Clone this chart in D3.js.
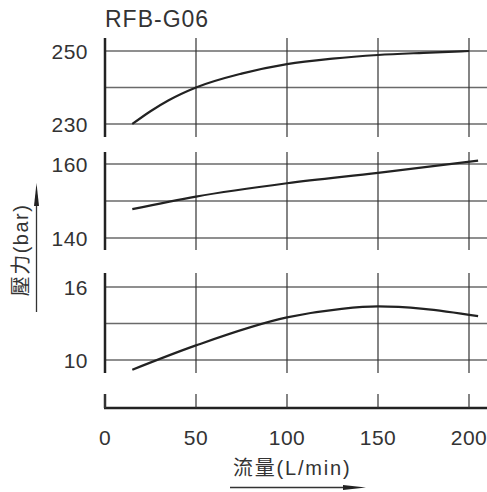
<!DOCTYPE html>
<html>
<head>
<meta charset="utf-8">
<script src="https://cdn.jsdelivr.net/npm/d3@7"></script>
<style>
  body { margin: 0; background: #fff; }
  text { font-family: "Liberation Sans", Arial, "Noto Sans CJK TC", sans-serif; fill: #333; }
</style>
</head>
<body>
<div id="chart"></div>
<script>
// flow (L/min) ticks
let xTicks = [0, 50, 100, 150, 200]

// top panel: 230-250 bar
let flowTop = [15, 25, 35, 50, 75, 100, 125, 150, 175, 200]
let pressTop = [230, 233.5, 236.5, 240, 243.8, 246.4, 247.9, 248.9, 249.5, 250]
let ticksTop = [230, 240, 250]

// middle panel: 140-160 bar
let flowMid = [15, 50, 100, 150, 205]
let pressMid = [147.8, 151.2, 154.8, 157.6, 160.9]
let ticksMid = [140, 150, 160]

// bottom panel: 10-16 bar
let flowBot = [15, 50, 100, 130, 150, 175, 205]
let pressBot = [9.2, 11.2, 13.5, 14.2, 14.4, 14.2, 13.6]
let ticksBot = [10, 13, 16]

let width = 487,
    height = 492

let svg = d3.select("#chart")
    .append("svg")
    .attr("width", width)
    .attr("height", height)

let xScale = d3.scaleLinear()
    .domain([0, 200])
    .range([105, 469])

let panels = [
    { flow: flowTop, press: pressTop, ticks: ticksTop, top: 38, bottom: 137, y0: 124, y1: 51 },
    { flow: flowMid, press: pressMid, ticks: ticksMid, top: 152, bottom: 250, y0: 238, y1: 164 },
    { flow: flowBot, press: pressBot, ticks: ticksBot, top: 273, bottom: 373, y0: 360, y1: 287 }
]

panels.forEach(function (p) {
    let yScale = d3.scaleLinear()
        .domain([p.ticks[0], p.ticks[2]])
        .range([p.y0, p.y1])

    let g = svg.append("g")

    // horizontal grid
    g.selectAll(".hgrid")
        .data(p.ticks)
        .enter()
        .append("line")
        .attr("x1", xScale(0))
        .attr("x2", width)
        .attr("y1", function (d) { return yScale(d) })
        .attr("y2", function (d) { return yScale(d) })
        .attr("stroke", "#6a6a6a")
        .attr("stroke-width", 1.3)

    // vertical grid
    g.selectAll(".vgrid")
        .data(xTicks.slice(1))
        .enter()
        .append("line")
        .attr("x1", function (d) { return xScale(d) })
        .attr("x2", function (d) { return xScale(d) })
        .attr("y1", p.top)
        .attr("y2", p.bottom)
        .attr("stroke", "#333")
        .attr("stroke-width", 1.2)

    // left axis
    g.append("line")
        .attr("x1", xScale(0))
        .attr("x2", xScale(0))
        .attr("y1", p.top)
        .attr("y2", p.bottom)
        .attr("stroke", "#222")
        .attr("stroke-width", 2.5)

    // tick labels (only ends)
    g.selectAll(".lbl")
        .data([p.ticks[0], p.ticks[2]])
        .enter()
        .append("text")
        .attr("x", 88)
        .attr("y", function (d) { return yScale(d) + 7.5 })
        .attr("text-anchor", "end")
        .attr("font-size", 21)
        .attr("letter-spacing", 0.5)
        .text(function (d) { return d })

    // curve
    let line = d3.line()
        .x(function (d, i) { return xScale(p.flow[i]) })
        .y(function (d) { return yScale(d) })
        .curve(d3.curveMonotoneX)

    g.append("path")
        .datum(p.press)
        .attr("d", line)
        .attr("fill", "none")
        .attr("stroke", "#222")
        .attr("stroke-width", 2.2)
})

// bottom x axis
let axisY = 408
svg.append("line")
    .attr("x1", xScale(0) - 1)
    .attr("x2", width)
    .attr("y1", axisY)
    .attr("y2", axisY)
    .attr("stroke", "#222")
    .attr("stroke-width", 2.5)

svg.selectAll(".xtick")
    .data(xTicks)
    .enter()
    .append("line")
    .attr("x1", function (d) { return xScale(d) })
    .attr("x2", function (d) { return xScale(d) })
    .attr("y1", 394)
    .attr("y2", axisY)
    .attr("stroke", "#333")
    .attr("stroke-width", function (d) { return d === 0 ? 2.5 : 1.2 })

svg.selectAll(".xlbl")
    .data(xTicks)
    .enter()
    .append("text")
    .attr("x", function (d) { return xScale(d) })
    .attr("y", 445)
    .attr("text-anchor", "middle")
    .attr("font-size", 21)
    .attr("letter-spacing", 0.5)
    .text(function (d) { return d })

// title
svg.append("text")
    .attr("x", 105)
    .attr("y", 27)
    .attr("font-size", 23)
    .attr("letter-spacing", 1)
    .text("RFB-G06")

// x title + arrow
svg.append("text")
    .attr("x", 233)
    .attr("y", 475)
    .attr("font-size", 20)
    .attr("letter-spacing", 1.8)
    .text("流量(L/min)")

svg.append("line")
    .attr("x1", 230)
    .attr("x2", 350)
    .attr("y1", 487.5)
    .attr("y2", 487.5)
    .attr("stroke", "#333")
    .attr("stroke-width", 1.3)

svg.append("path")
    .attr("d", "M343,485 L366,487.5 L343,490 Z")
    .attr("fill", "#222")

// y title + arrow
svg.append("text")
    .attr("transform", "translate(28,250) rotate(-90)")
    .attr("text-anchor", "middle")
    .attr("font-size", 20)
    .attr("letter-spacing", 1.5)
    .text("壓力(bar)")

svg.append("line")
    .attr("x1", 36.5)
    .attr("x2", 36.5)
    .attr("y1", 312)
    .attr("y2", 200)
    .attr("stroke", "#333")
    .attr("stroke-width", 1.3)

svg.append("path")
    .attr("d", "M34,206 L36.5,183 L39,206 Z")
    .attr("fill", "#222")
</script>
</body>
</html>
